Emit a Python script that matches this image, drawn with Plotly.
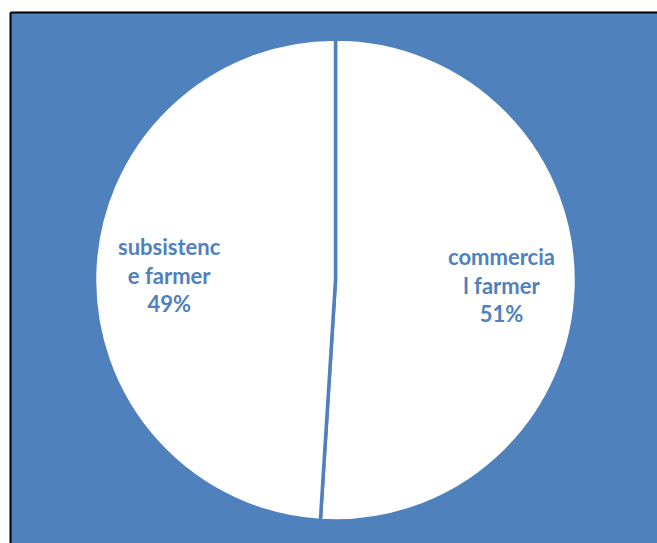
import math
import plotly.graph_objects as go

# Farmer types and their shares (percent)
labels = ["commercial farmer", "subsistence farmer"]
display_text = ["commercia<br>l farmer", "subsistenc<br>e farmer"]
values = [51, 49]

BLUE = "#4F81BD"
W, H = 657, 543

# Pie placement in pixels
CX, CY, R = 335.5, 280.0, 241.0
LABEL_R = 0.69  # label distance from centre, as a fraction of the radius

fig = go.Figure()
fig.add_trace(go.Pie(
    labels=labels,
    values=values,
    sort=False,
    direction="clockwise",
    rotation=0,
    marker=dict(colors=["white", "white"], line=dict(color=BLUE, width=3.5)),
    textinfo="none",
    domain=dict(x=[(CX - R) / W, (CX + R) / W],
                y=[1 - (CY + R) / H, 1 - (CY - R) / H]),
    showlegend=False,
    hoverinfo="label+percent",
))

# Data labels placed along each slice's bisector
total = sum(values)
cum = 0.0
for txt, v in zip(display_text, values):
    mid = (cum + v / 2) / total * 2 * math.pi  # clockwise from 12 o'clock
    cum += v
    px = CX + LABEL_R * R * math.sin(mid)
    py = CY - LABEL_R * R * math.cos(mid)
    fig.add_annotation(
        x=px / W, y=1 - py / H, xref="paper", yref="paper",
        text=f"{txt}<br>{round(v / total * 100)}%",
        showarrow=False, align="center", xanchor="center", yanchor="middle",
        font=dict(family="Lato", size=22, color=BLUE, weight="bold"),
    )

# Chart area background with its top/left frame
fig.add_shape(type="rect", xref="paper", yref="paper",
              x0=10.5 / W, x1=1.0, y0=0, y1=1 - 12.5 / H,
              fillcolor=BLUE, line=dict(width=0), layer="below")
fig.add_shape(type="line", xref="paper", yref="paper",
              x0=10.5 / W, x1=1.0, y0=1 - 12.5 / H, y1=1 - 12.5 / H,
              line=dict(color="black", width=2))
fig.add_shape(type="line", xref="paper", yref="paper",
              x0=10.5 / W, x1=10.5 / W, y0=0, y1=1 - 12.5 / H,
              line=dict(color="black", width=2))

fig.update_layout(
    width=W, height=H,
    margin=dict(l=0, r=0, t=0, b=0),
    paper_bgcolor="white",
    plot_bgcolor="white",
)

fig.write_html("out.html")
